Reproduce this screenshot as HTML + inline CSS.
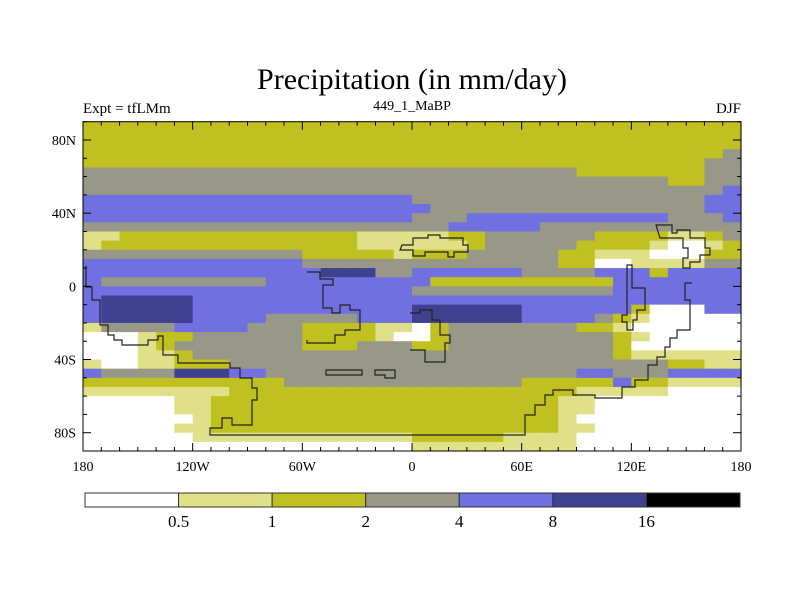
<!DOCTYPE html>
<html><head><meta charset="utf-8"><style>
html,body{margin:0;padding:0;background:#fff;}
svg{display:block;font-family:"Liberation Serif",serif;}
</style></head><body>
<svg id="chart" width="800" height="600" viewBox="0 0 800 600">
<text x="412" y="89" font-size="30" text-anchor="middle">Precipitation (in mm/day)</text>
<text x="83" y="113" font-size="15">Expt = tfLMm</text>
<text x="412" y="110" font-size="14" text-anchor="middle">449_1_MaBP</text>
<text x="741" y="113" font-size="15" text-anchor="end">DJF</text>
<g id="cells"></g>
<g id="coast" fill="none" stroke="#222" stroke-width="1.2"></g>
<rect x="83" y="121.7" width="658" height="329.3" fill="none" stroke="#000" stroke-width="1"/>
<g id="axes"></g>
<g id="cbar"></g>
</svg>
<script>
// Map levels per 5-degree latitude row (90N->90S), 36 columns of 10 degrees lon (180W->180E)
// 0:<0.5 1:0.5-1 2:1-2 3:2-4 4:4-8 5:8-16 6:>16
const levelRows = [
"222222222222222222222222222222222222",
"222222222222222222222222222222222222",
"222222222222222222222222222222222222",
"222222222222222222222222222222222223",
"222222222222222222222222222222222233",
"333333333333333333333333333222222233",
"333333333333333333333333333333332233",
"333333333333333333333333333333333334",
"444444444444444444333333333333333344",
"444444444444444444433333333333333344",
"444444444444444444333444444444443334",
"333333333333333333334444433333333333",
"112222222222222111112233333322221123",
"122222222222222111111233333222210012",
"333333333333222221222333332211100022",
"444444444444333333333333332200111133",
"444444444444455533444444333344424444",
"433333333344444444422222222224444444",
"444444444444444444333333333334444444",
"455555444444444444444444444444444444",
"455555444444444444555555444444200044",
"455555444433333444555555444432100000",
"133334444333222211023333333221000000",
"000122333333222210023333333332100000",
"000123333333222333223333333332000000",
"000112333333333333333333333332111111",
"100112223333333333333333333333332211",
"433335554433333333333333333443334444",
"222222222223333333333333222224221111",
"111111112222222222222222222111110000",
"000001122222222222222222221100000000",
"000001122222222222222222221100000000",
"000000122222222222222222221000000000",
"000001122222222222222222221100000000",
"000000111111111111222221111000000000",
"000000000000000000111111111000000000"
];
const levelColors = ["#ffffff","#e0e088","#c0c020","#989888","#7070e0","#404090","#000000"];
const colorbarLabels = ["0.5","1","2","4","8","16"];
const lonTickLabels = ["180","120W","60W","0","60E","120E","180"];
const lonTickValues = [-180,-120,-60,0,60,120,180];
const latTickLabels = ["80N","40N","0","40S","80S"];
const latTickValues = [80,40,0,-40,-80];

const NS="http://www.w3.org/2000/svg";
const X0=83,X1=741,Y0=121.7,Y1=451;
const xOf=lon=>X0+(lon+180)/360*(X1-X0);
const yOf=lat=>Y0+(90-lat)/180*(Y1-Y0);
function mk(tag,attrs,parent){const e=document.createElementNS(NS,tag);for(const k in attrs)e.setAttribute(k,attrs[k]);parent.appendChild(e);return e;}

const cells=document.getElementById('cells');
levelRows.forEach((row,i)=>{
  const latTop=90-5*i, latBot=85-5*i;
  for(let j=0;j<row.length;j++){
    const lonL=-180+10*j, lonR=lonL+10;
    const r=mk('rect',{x:xOf(lonL).toFixed(2),y:yOf(latTop).toFixed(2),width:(xOf(lonR)-xOf(lonL)+0.6).toFixed(2),height:(yOf(latBot)-yOf(latTop)+0.6).toFixed(2),fill:levelColors[+row[j]]},cells);
    
    
  }
});

// coastline outlines (pixel approximations of paleo-continent boundaries)
const coast=document.getElementById('coast');
const coastPaths=[
"M86,266 L86,287 L92,287 L92,300 L100,300 L100,325 L108,325 L108,335 L114,335 L114,340 L122,340 L122,345 L148,345 L148,340 L158,340 L158,336 L163,336 L163,355 L178,355 L178,363 L230,363 L230,368 L240,368 L240,378 L252,378 L252,388 L257,388 L257,400 L252,400 L252,425 L232,425 L232,418 L222,418 L222,428 L210,428 L210,435 L525,435 L525,415 L535,415 L535,405 L545,405 L545,395 L553,395 L553,390 L573,390 L573,395 L595,395 L595,398 L622,398 L622,387 L635,387 L635,380 L648,380 L648,365 L657,365 L657,357 L665,357 L665,347 L670,347 L670,338 L677,338 L677,330 L690,330 L690,300 L685,300 L685,283 L692,283",
"M307,272 L320,272 L320,279 L333,279 L333,285 L323,285 L323,308 L332,308 L332,313 L340,313 L340,305 L350,305 L350,310 L360,310 L360,330 L345,330 L345,335 L335,335 L335,343 L307,343 L307,340",
"M410,313 L420,313 L420,310 L432,310 L432,320 L440,320 L440,335 L450,335 L450,343 L445,343 L445,362 L425,362 L425,350 L410,350",
"M627,265 L632,265 L632,288 L645,288 L645,310 L637,310 L637,320 L633,320 L633,330 L627,330 L627,322 L622,322 L622,315 L627,315 Z",
"M400,250 L402,245 L413,245 L413,238 L428,238 L428,235 L440,235 L440,238 L463,238 L463,245 L468,245 L468,252 L454,252 L454,257 L448,257 L448,252 L425,252 L425,256 L413,256 L413,250 Z",
"M656,225 L672,225 L672,233 L677,233 L677,230 L690,230 L690,238 L705,238 L705,248 L710,248 L710,255 L700,255 L700,262 L690,262 L690,268 L683,268 L683,258 L688,258 L688,248 L683,248 L683,238 L660,238 Z",
"M326,370 L362,370 L362,375 L326,375 Z",
"M375,370 L395,370 L395,378 L385,378 L385,375 L375,375 Z"
];
coastPaths.forEach(d=>{
  const p=mk('path',{d:d},coast);
  
  
});

// axes ticks & labels
const axes=document.getElementById('axes');
for(let lon=-180;lon<=180;lon+=10){
  const major=lon%60===0, len=major?8:4, x=xOf(lon);
  const t1=mk('line',{x1:x,y1:Y0,x2:x,y2:Y0+len,stroke:'#000','stroke-width':1},axes);
  
  
  const t2=mk('line',{x1:x,y1:Y1,x2:x,y2:Y1-len,stroke:'#000','stroke-width':1},axes);
  
  
}
for(let lat=-90;lat<=90;lat+=10){
  const major=lat%40===0 && Math.abs(lat)<=80, len=major?8:4, y=yOf(lat);
  const t1=mk('line',{x1:X0,y1:y,x2:X0+len,y2:y,stroke:'#000','stroke-width':1},axes);
  
  
  const t2=mk('line',{x1:X1,y1:y,x2:X1-len,y2:y,stroke:'#000','stroke-width':1},axes);
  
  
}
lonTickValues.forEach((v,i)=>{
  const t=mk('text',{x:xOf(v),y:471,'font-size':14,'text-anchor':'middle'},axes);
  t.textContent=lonTickLabels[i];
  
  
});
latTickValues.forEach((v,i)=>{
  const t=mk('text',{x:76,y:yOf(v)+5,'font-size':14,'text-anchor':'end'},axes);
  t.textContent=latTickLabels[i];
  
  
});

// colorbar
const cbar=document.getElementById('cbar');
const CB0=85,CB1=740,CBY=493,CBH=14,bw=(CB1-CB0)/levelColors.length;
levelColors.forEach((c,i)=>{
  const r=mk('rect',{x:CB0+i*bw,y:CBY,width:bw,height:CBH,fill:c,stroke:'#333','stroke-width':1},cbar);
  
  
});
colorbarLabels.forEach((l,i)=>{
  const t=mk('text',{x:CB0+(i+1)*bw,y:527,'font-size':17,'text-anchor':'middle'},cbar);
  t.textContent=l;
  
  
});
</script>
</body></html>
